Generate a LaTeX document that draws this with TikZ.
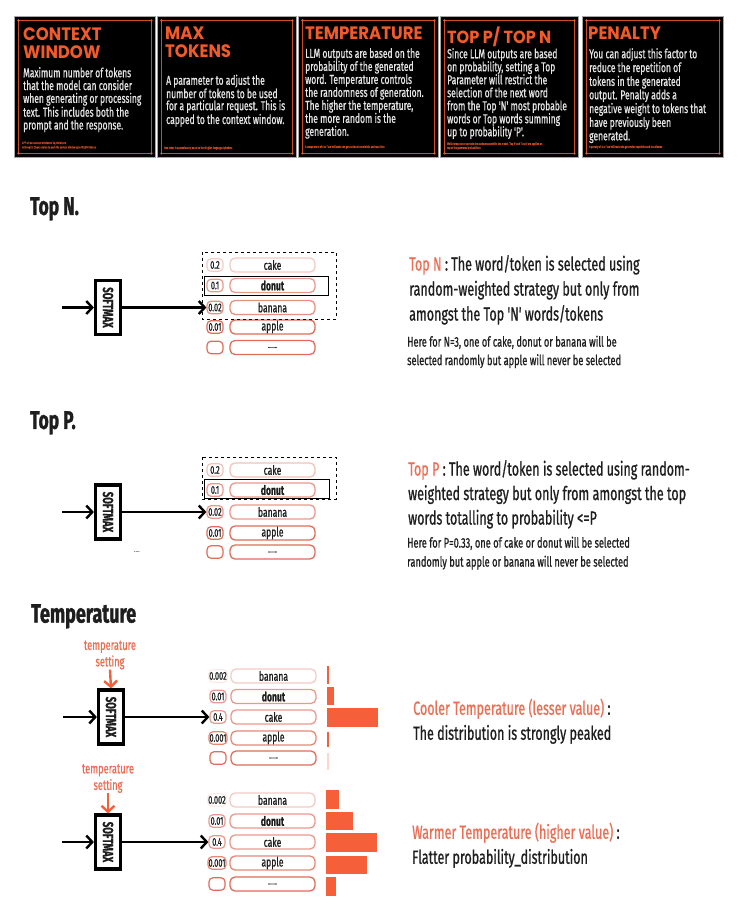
\documentclass[tikz,border=0pt]{standalone}
\usepackage{fontspec}
\setmainfont{Fira Sans}
\newfontfamily\cnd[FakeStretch=0.66,FakeBold=0.8]{Fira Sans}
\newfontfamily\hvy[FakeStretch=0.68,FakeBold=1.2]{Fira Sans}
\newfontfamily\ttl[FakeStretch=0.92]{Poppins}
\usetikzlibrary{arrows.meta}
\definecolor{cardor}{HTML}{F15A29}
\definecolor{salmon}{HTML}{EC6F55}
\definecolor{boxred}{HTML}{D8553D}
\definecolor{barc}{HTML}{F5603A}
\definecolor{txt}{HTML}{1E1E1E}
\newcommand{\wdots}{{\fontsize{7}{7}\selectfont ........}}
\newcommand{\tokrow}[9]{%
  \node[prob,draw=boxred!#8] (#1p#2) at (#3,#5) {#6};
  \node[word,draw=boxred!#9] (#1w#2) at (#4,#5) {#7};}
\newcommand{\cardframe}[1]{%
  \draw[frame] ([shift={(4.5,4.5)}]#1.north west) rectangle ([shift={(-4.5,-4.5)}]#1.south east);
  \fill[cardor] ([shift={(4.5,4.5)}]#1.north west) circle (1.3);
  \fill[cardor] ([shift={(-4.5,4.5)}]#1.north east) circle (1.3);
  \fill[cardor] ([shift={(4.5,-4.5)}]#1.south west) circle (1.3);
  \fill[cardor] ([shift={(-4.5,-4.5)}]#1.south east) circle (1.3);}
\begin{document}
\begin{tikzpicture}[x=1pt,y=-1pt,
  card/.style={fill=black,draw=black!35,line width=0.9,minimum height=141pt,anchor=north west,inner sep=0},
  frame/.style={draw=cardor!85!black,line width=0.7},
  ctitle/.style={anchor=north west,inner sep=0,align=left,text=cardor,font=\ttl\bfseries\fontsize{18}{18}\selectfont},
  cbody/.style={anchor=north west,inner sep=0,align=left,text=white!90!black,font=\cnd\fontsize{12.9}{12.8}\selectfont},
  cnote/.style={anchor=west,inner sep=0,align=left,text=cardor!80!black,font=\cnd\fontsize{3.3}{4.5}\selectfont},
  sect/.style={anchor=north west,inner sep=0,text=txt,font=\hvy\bfseries\fontsize{25.5}{26}\selectfont},
  smx/.style={draw=black,line width=3.2,minimum width=25pt,minimum height=54pt,inner sep=0},
  smtext/.style={rotate=-90,inner sep=0,text=txt,font=\cnd\bfseries\fontsize{14.5}{14}\selectfont},
  arr/.style={-{Straight Barb[length=6pt,width=13pt]},line width=2.4,draw=black},
  oarr/.style={-{Straight Barb[length=6pt,width=13pt]},line width=2.4,draw=barc},
  prob/.style={rounded corners=4pt,line width=1.2,minimum width=16pt,minimum height=12.5pt,inner sep=0.5pt,text=txt,font=\cnd\fontsize{11.2}{11}\selectfont},
  word/.style={rounded corners=5pt,line width=1.3,minimum width=85pt,minimum height=14pt,inner sep=0,text=txt,font=\cnd\fontsize{13}{13}\selectfont},
  desc/.style={anchor=north west,inner sep=0,align=left,text=txt,font=\cnd\fontsize{19}{25}\selectfont},
  small/.style={anchor=north west,inner sep=0,align=left,text=txt,font=\cnd\fontsize{14}{18.5}\selectfont},
  tlab/.style={align=center,inner sep=0,text=salmon,font=\cnd\fontsize{14}{16.5}\selectfont}
]
\useasboundingbox (0,0) rectangle (737,905);
\fill[white] (0,0) rectangle (737,905);

% ---------- cards ----------
\node[card,minimum width=141pt] (c1) at (14,16) {};
\node[card,minimum width=139pt] (c2) at (157,16) {};
\node[card,minimum width=140pt] (c3) at (298,16) {};
\node[card,minimum width=138pt] (c4) at (440,16) {};
\node[card,minimum width=141pt] (c5) at (582,16) {};
\cardframe{c1}\cardframe{c2}\cardframe{c3}\cardframe{c4}\cardframe{c5}

\node[ctitle] (t1) at (23,27) {CONTEXT\\WINDOW};
\node[cbody] (b1) at (23,67) {Maximum number of tokens\\that the model can consider\\when generating or processing\\text. This includes both the\\prompt and the response.};
\node[cnote] (n1a) at (22,143) {GPT-4 has a context window of 32,768 tokens.};
\node[cnote] (n1b) at (22,147.5) {Anthropic's Claude claims to push the context window upto 100,000 tokens};

\node[ctitle] (t2) at (165,27) {MAX\\TOKENS};
\node[cbody,font=\cnd\fontsize{12.9}{12}\selectfont] (b2) at (166,74.5) {A parameter to adjust the\\number of tokens to be used\\for a particular request. This is\\capped to the context window.};
\node[cnote] (n2) at (164,148) {One token is approximately equal to four English language alphabets};

\node[ctitle] (t3) at (305,26.5) {TEMPERATURE};
\node[cbody,font=\cnd\fontsize{12.9}{13}\selectfont] (b3) at (305,48) {LLM outputs are based on the\\probability of the generated\\word. Temperature controls\\the randomness of generation.\\The higher the temperature,\\the more random is the\\generation.};
\node[cnote] (n3) at (305,147) {A temperature of 0 or `low' will make the generation deterministic and repetitive};

\node[ctitle,font=\ttl\bfseries\fontsize{17.5}{18}\selectfont] (t4) at (447,26.5) {TOP P/ TOP N};
\node[cbody,font=\cnd\fontsize{12.9}{13}\selectfont] (b4) at (447,48) {Since LLM outputs are based\\on probability, setting a Top\\Parameter will restrict the\\selection of the next word\\from the Top 'N' most probable\\words or Top words summing\\up to probability 'P'.};
\node[cnote] (n4a) at (447,144) {While temperature controls the randomness within the model, `Top P' and `Top N' are applied on};
\node[cnote] (n4b) at (447,148) {top of the generated probabilities};

\node[ctitle] (t5) at (588,26.5) {PENALTY};
\node[cbody,font=\cnd\fontsize{12.9}{11.9}\selectfont] (b5) at (589,48) {You can adjust this factor to\\reduce the repetition of\\tokens in the generated\\output. Penalty adds a\\negative weight to tokens that\\have previously been\\generated.};
\node[cnote] (n5) at (589,147) {A penalty of 0 or `low' will make the generation repetitive and less diverse};

% ---------- Top N ----------
\node[sect] (sN) at (30,197) {Top N.};
\coordinate (inN) at (62,307.5);
\node[smx] (smN) at (108,307.5) {};
\node[smtext] (smNt) at (smN) {SOFTMAX};
\tokrow{N}{1}{215}{272.5}{265}{0.2}{cake}{30}{30}
\tokrow{N}{2}{215}{272.5}{285.5}{0.1}{\bfseries donut}{60}{60}
\tokrow{N}{3}{215}{272.5}{307.5}{0.02}{banana}{65}{65}
\tokrow{N}{4}{215}{272.5}{327}{0.01}{apple}{85}{85}
\tokrow{N}{5}{215}{272.5}{347.5}{}{\wdots}{85}{85}
\draw[arr] (inN) -- (smN.west);
\draw[arr] (smN.east) -- (Np3.west);
\draw[dashed,line width=0.8] (202,252) rectangle (336,319);
\draw[line width=0.8] (204,276) rectangle (328,295);
\node[desc] (dN) at (409,255) {{\color{salmon}Top N} : The word/token is selected using\\random-weighted strategy but only from\\amongst the Top 'N' words/tokens};
\node[small] (eN) at (407,335.5) {Here for N=3, one of cake, donut or banana will be\\selected randomly but apple will never be selected};

% ---------- Top P ----------
\node[sect] (sP) at (30,411) {Top P.};
\coordinate (inP) at (62,512);
\node[smx] (smP) at (108,512) {};
\node[smtext] (smPt) at (smP) {SOFTMAX};
\tokrow{P}{1}{215}{272.5}{470}{0.2}{cake}{35}{35}
\tokrow{P}{2}{215}{272.5}{490}{0.1}{\bfseries donut}{60}{60}
\tokrow{P}{3}{215}{272.5}{512}{0.02}{banana}{60}{60}
\tokrow{P}{4}{215}{272.5}{533}{0.01}{apple}{85}{85}
\tokrow{P}{5}{215}{272.5}{552}{}{\wdots}{85}{85}
\draw[arr] (inP) -- (smP.west);
\draw[arr] (smP.east) -- (Pp3.west);
\draw[dashed,line width=0.8] (202,457) rectangle (336,499);
\draw[line width=0.8] (204,479) rectangle (329,498);
\node[inner sep=0,font=\fontsize{6}{6}\selectfont] (pdots) at (137,552) {....};
\node[desc,font=\cnd\fontsize{19}{24.5}\selectfont] (dP) at (408,460) {{\color{salmon}Top P} : The word/token is selected using random-\\weighted strategy but only from amongst the top\\words totalling to probability <=P};
\node[small,font=\cnd\fontsize{14}{19}\selectfont] (eP) at (407,536.5) {Here for P=0.33, one of cake or donut will be selected\\randomly but apple or banana will never be selected};

% ---------- Temperature ----------
\node[sect,font=\hvy\bfseries\fontsize{26.5}{27}\selectfont] (sT) at (31,604) {Temperature};

% cooler
\node[tlab] (tlA) at (110,655) {temperature\\setting};
\coordinate (inA) at (63,717);
\node[smx] (smA) at (111,717) {};
\node[smtext] (smAt) at (smA) {SOFTMAX};
\tokrow{A}{1}{218}{273.5}{676}{0.002}{banana}{12}{30}
\tokrow{A}{2}{218}{273.5}{696.5}{0.01}{\bfseries donut}{60}{60}
\tokrow{A}{3}{218}{273.5}{717}{0.4}{cake}{60}{60}
\tokrow{A}{4}{218}{273.5}{738}{0.001}{apple}{70}{70}
\tokrow{A}{5}{218}{273.5}{758}{}{\wdots}{85}{85}
\draw[oarr] (tlA.south) -- (smA.north);
\draw[arr] (inA) -- (smA.west);
\draw[arr] (smA.east) -- (Ap3.west);
\fill[barc] (327.2,666) rectangle (329,684);
\fill[barc] (327.2,687) rectangle (333.5,705);
\fill[barc] (327.2,708) rectangle (378,727);
\fill[barc] (327.2,732) rectangle (329,747);
\fill[barc!25] (327.2,753) rectangle (329,770);
\node[desc,font=\cnd\fontsize{19}{25}\selectfont] (dA) at (413,698.5) {{\color{salmon}Cooler Temperature (lesser value)} :\\The distribution is strongly peaked};

% warmer
\node[tlab] (tlB) at (108,778.5) {temperature\\setting};
\coordinate (inB) at (62,842);
\node[smx] (smB) at (108,842) {};
\node[smtext] (smBt) at (smB) {SOFTMAX};
\tokrow{B}{1}{217}{272.5}{800}{0.002}{banana}{12}{30}
\tokrow{B}{2}{217}{272.5}{821}{0.01}{\bfseries donut}{60}{60}
\tokrow{B}{3}{217}{272.5}{842}{0.4}{cake}{60}{60}
\tokrow{B}{4}{217}{272.5}{863}{0.001}{apple}{70}{70}
\tokrow{B}{5}{217}{272.5}{884}{}{\wdots}{85}{85}
\draw[oarr] (tlB.south) -- (smB.north);
\draw[arr] (inB) -- (smB.west);
\draw[arr] (smB.east) -- (Bp3.west);
\fill[barc] (326,790) rectangle (339,809);
\fill[barc] (326,812) rectangle (353,830);
\fill[barc] (326,833) rectangle (377,852);
\fill[barc] (326,856) rectangle (367,874);
\fill[barc] (326,877) rectangle (336,896);
\node[desc,font=\cnd\fontsize{19}{25}\selectfont] (dB) at (412,822.5) {{\color{salmon}Warmer Temperature (higher value)} :\\Flatter probability\_distribution};
\end{tikzpicture}
\end{document}
